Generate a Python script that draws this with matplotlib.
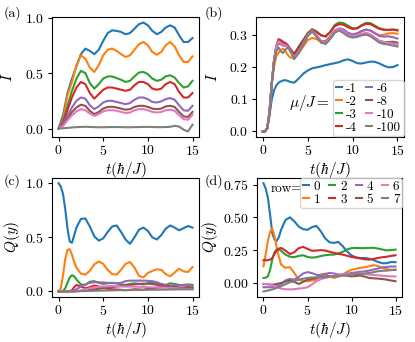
import numpy as np
import matplotlib
matplotlib.use("Agg")
import matplotlib.pyplot as plt

plt.rcParams['font.family'] = 'serif'
plt.rcParams['font.serif'] = ['cmr10']
plt.rcParams['mathtext.fontset'] = 'cm'
plt.rcParams['axes.formatter.use_mathtext'] = True
plt.rcParams['font.size'] = 10
plt.rcParams['axes.labelsize'] = 11
plt.rcParams['xtick.labelsize'] = 10
plt.rcParams['ytick.labelsize'] = 10

colors = ['tab:blue', 'tab:orange', 'tab:green', 'tab:red',
          'tab:purple', 'tab:brown', 'tab:pink', 'tab:gray']

# ---- panel (a): I vs t ----
t_a = np.arange(0, 15.5, 0.5)
I_a = [
    [0, 0.12, 0.32, 0.45, 0.56, 0.67, 0.72, 0.70, 0.67, 0.71, 0.79, 0.86, 0.885, 0.88, 0.87, 0.85,
     0.86, 0.90, 0.94, 0.955, 0.93, 0.88, 0.85, 0.87, 0.91, 0.93, 0.91, 0.84, 0.78, 0.78, 0.815],
    [0, 0.08, 0.30, 0.42, 0.57, 0.66, 0.63, 0.55, 0.51, 0.57, 0.66, 0.71, 0.72, 0.70, 0.67, 0.645,
     0.66, 0.71, 0.76, 0.78, 0.75, 0.69, 0.665, 0.69, 0.75, 0.78, 0.74, 0.66, 0.60, 0.60, 0.65],
    [0, 0.06, 0.20, 0.34, 0.45, 0.52, 0.50, 0.41, 0.36, 0.40, 0.45, 0.47, 0.47, 0.455, 0.44, 0.42,
     0.43, 0.47, 0.505, 0.51, 0.49, 0.45, 0.43, 0.44, 0.47, 0.48, 0.46, 0.41, 0.37, 0.38, 0.43],
    [0, 0.05, 0.17, 0.28, 0.37, 0.42, 0.40, 0.32, 0.27, 0.31, 0.35, 0.37, 0.37, 0.36, 0.35, 0.34,
     0.35, 0.39, 0.42, 0.42, 0.40, 0.36, 0.35, 0.36, 0.40, 0.42, 0.40, 0.33, 0.28, 0.28, 0.32],
    [0, 0.04, 0.12, 0.19, 0.25, 0.28, 0.27, 0.21, 0.175, 0.20, 0.235, 0.25, 0.25, 0.24, 0.23, 0.22,
     0.23, 0.26, 0.28, 0.28, 0.265, 0.24, 0.235, 0.245, 0.265, 0.275, 0.26, 0.21, 0.165, 0.16, 0.205],
    [0, 0.03, 0.09, 0.15, 0.19, 0.215, 0.205, 0.16, 0.13, 0.15, 0.18, 0.195, 0.196, 0.19, 0.18, 0.17,
     0.175, 0.195, 0.205, 0.205, 0.195, 0.18, 0.175, 0.18, 0.20, 0.205, 0.195, 0.15, 0.11, 0.105, 0.15],
    [0, 0.025, 0.075, 0.12, 0.155, 0.175, 0.165, 0.135, 0.115, 0.13, 0.155, 0.165, 0.166, 0.16, 0.15, 0.14,
     0.145, 0.165, 0.175, 0.175, 0.165, 0.15, 0.145, 0.15, 0.165, 0.17, 0.16, 0.12, 0.085, 0.08, 0.125],
    [0, 0.003, 0.006, 0.01, 0.013, 0.015, 0.016, 0.015, 0.013, 0.012, 0.012, 0.013, 0.014, 0.014, 0.013, 0.012,
     0.012, 0.013, 0.014, 0.015, 0.015, 0.014, 0.013, 0.013, 0.014, 0.016, 0.025, 0.018, -0.01, -0.025, 0.035],
]

# ---- panel (b): I vs t for different mu/J ----
mu_labels = ['-1', '-2', '-3', '-4', '-6', '-8', '-10', '-100']
t_b = [0, 0.25, 0.5, 0.75, 1.0, 1.25, 1.5, 1.75, 2.0, 2.25, 2.5, 2.75, 3.0, 3.5, 4.0, 4.5, 5.0, 5.5,
       6.0, 6.5, 7.0, 7.5, 8.0, 8.5, 9.0, 9.5, 10.0, 10.5, 11.0, 11.5, 12.0, 12.5, 13.0, 13.5, 14.0, 14.5, 15.0]
I_b = [
    [0, 0, 0.01, 0.05, 0.10, 0.128, 0.143, 0.152, 0.156, 0.159, 0.16, 0.158, 0.155, 0.152, 0.165, 0.18, 0.19, 0.197,
     0.20, 0.203, 0.207, 0.21, 0.213, 0.216, 0.222, 0.225, 0.22, 0.213, 0.212, 0.215, 0.218, 0.217, 0.212, 0.205, 0.20, 0.201, 0.207],
    [0, 0, 0.01, 0.06, 0.15, 0.20, 0.235, 0.245, 0.255, 0.258, 0.252, 0.24, 0.232, 0.228, 0.245, 0.265, 0.285, 0.292,
     0.288, 0.28, 0.283, 0.297, 0.312, 0.32, 0.315, 0.305, 0.302, 0.306, 0.313, 0.318, 0.315, 0.307, 0.30, 0.302, 0.306, 0.307, 0.305],
    [0, 0, 0.01, 0.06, 0.15, 0.22, 0.265, 0.282, 0.28, 0.277, 0.275, 0.27, 0.258, 0.24, 0.265, 0.285, 0.307, 0.319,
     0.312, 0.30, 0.296, 0.31, 0.332, 0.34, 0.338, 0.33, 0.322, 0.322, 0.332, 0.339, 0.338, 0.33, 0.322, 0.318, 0.317, 0.318, 0.317],
    [0, 0, 0.01, 0.06, 0.15, 0.22, 0.265, 0.288, 0.285, 0.28, 0.276, 0.27, 0.26, 0.242, 0.262, 0.283, 0.305, 0.318,
     0.31, 0.30, 0.297, 0.31, 0.328, 0.335, 0.333, 0.325, 0.32, 0.322, 0.33, 0.336, 0.335, 0.327, 0.32, 0.317, 0.317, 0.318, 0.315],
    [0, 0, 0.01, 0.06, 0.15, 0.22, 0.265, 0.282, 0.278, 0.273, 0.27, 0.266, 0.255, 0.232, 0.25, 0.275, 0.302, 0.315,
     0.30, 0.282, 0.28, 0.295, 0.315, 0.322, 0.318, 0.308, 0.303, 0.306, 0.313, 0.318, 0.315, 0.306, 0.298, 0.296, 0.297, 0.294, 0.29],
    [0, 0, 0.01, 0.06, 0.15, 0.22, 0.262, 0.275, 0.272, 0.268, 0.267, 0.265, 0.255, 0.228, 0.247, 0.272, 0.30, 0.313,
     0.297, 0.278, 0.275, 0.29, 0.31, 0.318, 0.31, 0.30, 0.295, 0.298, 0.303, 0.305, 0.30, 0.29, 0.282, 0.279, 0.279, 0.28, 0.277],
    [0, 0, 0.01, 0.06, 0.15, 0.22, 0.265, 0.28, 0.275, 0.27, 0.268, 0.265, 0.255, 0.23, 0.248, 0.273, 0.30, 0.314,
     0.298, 0.28, 0.276, 0.292, 0.312, 0.32, 0.313, 0.302, 0.298, 0.30, 0.305, 0.308, 0.303, 0.293, 0.283, 0.279, 0.277, 0.274, 0.27],
    [0, 0, 0.01, 0.06, 0.15, 0.215, 0.25, 0.262, 0.25, 0.245, 0.255, 0.262, 0.255, 0.226, 0.245, 0.27, 0.298, 0.312,
     0.295, 0.277, 0.273, 0.288, 0.308, 0.315, 0.307, 0.297, 0.293, 0.295, 0.30, 0.302, 0.297, 0.287, 0.277, 0.273, 0.271, 0.268, 0.265],
]

# ---- panels (c), (d): Q(y) vs t ----
t_cd = [0, 0.25, 0.5, 0.75, 1.0, 1.25, 1.5, 1.75, 2.0, 2.5, 3.0, 3.5, 4.0, 4.5, 5.0, 5.5, 6.0, 6.5,
        7.0, 7.5, 8.0, 8.5, 9.0, 9.5, 10.0, 10.5, 11.0, 11.5, 12.0, 12.5, 13.0, 13.5, 14.0, 14.5, 15.0]
Q_c = [
    [1.0, 0.97, 0.90, 0.76, 0.58, 0.46, 0.45, 0.52, 0.59, 0.67, 0.675, 0.60, 0.51, 0.47, 0.49, 0.55, 0.60, 0.61,
     0.55, 0.48, 0.44, 0.50, 0.57, 0.59, 0.56, 0.50, 0.48, 0.52, 0.58, 0.61, 0.59, 0.565, 0.585, 0.605, 0.59],
    [0, 0.03, 0.15, 0.30, 0.385, 0.39, 0.34, 0.27, 0.22, 0.165, 0.155, 0.19, 0.25, 0.277, 0.255, 0.20, 0.16, 0.155,
     0.20, 0.255, 0.272, 0.22, 0.145, 0.13, 0.17, 0.19, 0.205, 0.20, 0.16, 0.14, 0.175, 0.21, 0.185, 0.18, 0.225],
    [0, 0, 0.005, 0.03, 0.08, 0.13, 0.15, 0.14, 0.11, 0.065, 0.06, 0.09, 0.095, 0.08, 0.07, 0.075, 0.08, 0.075,
     0.065, 0.06, 0.07, 0.075, 0.07, 0.065, 0.075, 0.085, 0.07, 0.055, 0.06, 0.075, 0.07, 0.06, 0.06, 0.065, 0.06],
    [0, 0, 0, 0, 0.002, 0.005, 0.01, 0.04, 0.06, 0.045, 0.03, 0.04, 0.055, 0.045, 0.035, 0.025, 0.02, 0.018,
     0.015, 0.012, 0.015, 0.02, 0.018, 0.015, 0.025, 0.03, 0.035, 0.04, 0.045, 0.04, 0.035, 0.03, 0.035, 0.04, 0.035],
    [0, 0, 0, 0, 0, 0.002, 0.005, 0.01, 0.02, 0.045, 0.065, 0.08, 0.085, 0.085, 0.083, 0.08, 0.078, 0.075,
     0.08, 0.095, 0.10, 0.10, 0.10, 0.10, 0.098, 0.095, 0.085, 0.07, 0.06, 0.055, 0.055, 0.058, 0.06, 0.058, 0.055],
    [0, 0, 0, 0, 0, 0, 0, 0, 0.002, 0.005, 0.01, 0.015, 0.02, 0.025, 0.03, 0.035, 0.04, 0.045,
     0.05, 0.055, 0.06, 0.065, 0.07, 0.072, 0.072, 0.068, 0.062, 0.055, 0.05, 0.045, 0.04, 0.038, 0.036, 0.035, 0.035],
    [0, 0, 0, 0, 0, 0, 0, 0, 0.002, 0.01, 0.02, 0.03, 0.038, 0.043, 0.046, 0.048, 0.05, 0.048,
     0.046, 0.045, 0.045, 0.044, 0.043, 0.042, 0.04, 0.038, 0.037, 0.036, 0.035, 0.033, 0.03, 0.027, 0.025, 0.022, 0.02],
    [0, 0, 0, 0, 0, 0, 0.001, 0.001, 0.002, 0.003, 0.004, 0.005, 0.006, 0.007, 0.008, 0.009, 0.01, 0.011,
     0.012, 0.012, 0.013, 0.014, 0.014, 0.015, 0.015, 0.016, 0.016, 0.017, 0.017, 0.018, 0.018, 0.019, 0.019, 0.02, 0.02],
]
row_labels = ['0', '1', '2', '3', '4', '5', '6', '7']
Q_d = [
    [0.76, 0.72, 0.65, 0.52, 0.38, 0.33, 0.32, 0.35, 0.405, 0.48, 0.50, 0.47, 0.43, 0.41, 0.405, 0.425, 0.435, 0.395,
     0.34, 0.31, 0.305, 0.313, 0.28, 0.24, 0.21, 0.195, 0.19, 0.19, 0.185, 0.175, 0.16, 0.15, 0.15, 0.16, 0.158],
    [0.127, 0.22, 0.32, 0.39, 0.415, 0.36, 0.27, 0.20, 0.14, 0.115, 0.12, 0.076, 0.025, 0.015, 0.013, 0.018, 0.025, 0.064,
     0.07, 0.05, 0.038, 0.048, 0.064, 0.085, 0.10, 0.108, 0.115, 0.12, 0.127, 0.135, 0.13, 0.115, 0.105, 0.10, 0.10],
    [0.038, 0.04, 0.05, 0.10, 0.18, 0.235, 0.255, 0.255, 0.245, 0.216, 0.20, 0.196, 0.206, 0.211, 0.198, 0.193, 0.196, 0.205,
     0.211, 0.215, 0.216, 0.225, 0.237, 0.255, 0.265, 0.267, 0.265, 0.265, 0.267, 0.268, 0.262, 0.255, 0.248, 0.25, 0.254],
    [0.173, 0.173, 0.173, 0.178, 0.19, 0.22, 0.247, 0.262, 0.267, 0.247, 0.22, 0.234, 0.265, 0.275, 0.26, 0.245, 0.247, 0.25,
     0.247, 0.238, 0.229, 0.222, 0.216, 0.207, 0.198, 0.192, 0.186, 0.18, 0.178, 0.183, 0.19, 0.196, 0.20, 0.206, 0.211],
    [-0.033, -0.033, -0.033, -0.033, -0.033, -0.03, -0.025, -0.018, -0.01, 0.02, 0.03, 0.025, 0.045, 0.072, 0.082, 0.075, 0.062, 0.058,
     0.068, 0.076, 0.072, 0.064, 0.065, 0.07, 0.076, 0.08, 0.085, 0.088, 0.094, 0.102, 0.11, 0.118, 0.122, 0.125, 0.125],
    [-0.008, -0.009, -0.01, -0.012, -0.013, -0.011, -0.008, -0.004, 0.0, 0.01, 0.018, 0.008, -0.008, 0.008, 0.025, 0.03, 0.038, 0.044,
     0.05, 0.05, 0.05, 0.055, 0.058, 0.055, 0.05, 0.053, 0.056, 0.048, 0.038, 0.035, 0.033, 0.03, 0.025, 0.018, 0.013],
    [-0.008, -0.009, -0.01, -0.014, -0.018, -0.024, -0.03, -0.037, -0.043, -0.048, -0.05, -0.048, -0.043, -0.04, -0.033, -0.012, 0.013, 0.028,
     0.038, 0.045, 0.05, 0.057, 0.064, 0.067, 0.069, 0.069, 0.069, 0.067, 0.064, 0.061, 0.058, 0.055, 0.052, 0.05, 0.05],
    [-0.065, -0.062, -0.058, -0.054, -0.05, -0.044, -0.038, -0.032, -0.025, -0.01, 0.005, 0.015, 0.025, 0.032, 0.038, 0.041, 0.043, 0.043,
     0.043, 0.047, 0.05, 0.053, 0.056, 0.06, 0.064, 0.067, 0.069, 0.072, 0.076, 0.082, 0.089, 0.092, 0.094, 0.097, 0.10],
]

fig = plt.figure(figsize=(4.15, 3.42), dpi=100)
ax_a = fig.add_axes([0.125, 0.600, 0.355, 0.350])
ax_b = fig.add_axes([0.617, 0.600, 0.357, 0.350])
ax_c = fig.add_axes([0.125, 0.132, 0.355, 0.348])
ax_d = fig.add_axes([0.619, 0.132, 0.350, 0.348])

for i in range(8):
    ax_a.plot(t_a, I_a[i], color=colors[i], lw=1.5)
    ax_b.plot(t_b, I_b[i], color=colors[i], lw=1.5, label=mu_labels[i])
    ax_c.plot(t_cd, Q_c[i], color=colors[i], lw=1.5)
    ax_d.plot(t_cd, Q_d[i], color=colors[i], lw=1.5, label=row_labels[i])

for ax in [ax_a, ax_b, ax_c, ax_d]:
    ax.set_xticks([0, 5, 10, 15])
    ax.set_xlabel(r'$t(\hbar/J)$', labelpad=1)
    ax.tick_params(length=3, pad=2.5)

ax_a.set_yticks([0.0, 0.5, 1.0])
ax_c.set_yticks([0.0, 0.5, 1.0])
ax_b.set_yticks([0.0, 0.1, 0.2, 0.3])
ax_d.set_yticks([0.0, 0.25, 0.5, 0.75])
ax_a.set_ylabel(r'$I$', labelpad=7)
ax_b.set_ylabel(r'$I$', labelpad=7)
ax_c.set_ylabel(r'$Q(y)$', labelpad=2)
ax_d.set_ylabel(r'$Q(y)$', labelpad=2)

leg_kw = dict(handlelength=0.45, handletextpad=0.35, columnspacing=0.7,
              labelspacing=0.05, borderpad=0.2, fontsize=9.5)
ax_b.legend(ncol=2, loc='lower right', borderaxespad=0.05, **leg_kw)
ax_b.text(0.5, 0.28, r'$\mu/J=$', transform=ax_b.transAxes, ha='right', va='center', fontsize=11)

ax_d.legend(ncol=4, loc='upper right', borderaxespad=0.0, **leg_kw)
ax_d.text(0.31, 0.905, 'row=', transform=ax_d.transAxes, ha='right', va='center', fontsize=9.5)

fig.text(0.008, 0.962, '(a)', ha='left', va='center', fontsize=10)
fig.text(0.492, 0.962, '(b)', ha='left', va='center', fontsize=10)
fig.text(0.008, 0.47, '(c)', ha='left', va='center', fontsize=10)
fig.text(0.492, 0.47, '(d)', ha='left', va='center', fontsize=10)

fig.savefig('out.png', dpi=100)
